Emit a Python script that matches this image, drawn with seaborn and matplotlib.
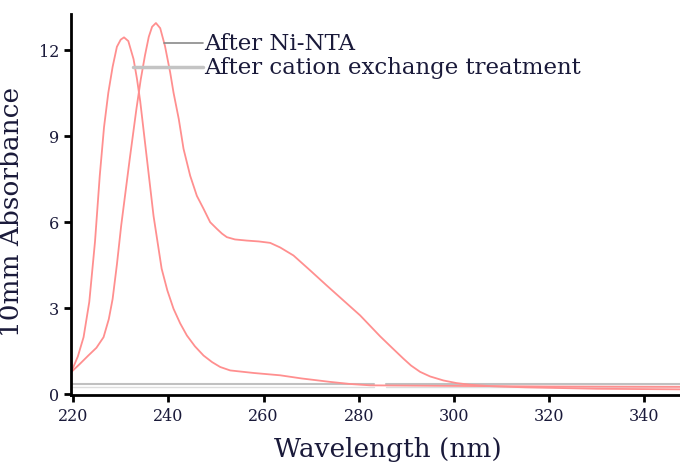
import matplotlib
matplotlib.use('Agg')
import matplotlib.pyplot as plt
import pandas as pd
import seaborn as sns

# Spectrum after cation exchange treatment (left peak)
wl_cation = [219.6, 221.0, 222.2, 223.4, 224.6, 225.6, 226.5, 227.4, 228.3, 229.2, 230.0, 230.7,
             231.6, 232.7, 233.4, 234.1, 235.5, 236.9, 238.6, 239.8, 241.1, 242.5, 243.9, 245.6,
             247.4, 249.2, 250.9, 253.0, 258.0, 263.5, 268.0, 274.0, 278.0, 282.4, 300.0, 320.0,
             347.5]
abs_cation = [0.75, 1.3, 1.97, 3.2, 5.3, 7.6, 9.3, 10.5, 11.4, 12.1, 12.35, 12.43,
              12.3, 11.67, 11.0, 10.2, 8.2, 6.2, 4.36, 3.6, 2.96, 2.45, 2.03, 1.65,
              1.33, 1.1, 0.93, 0.81, 0.72, 0.64, 0.53, 0.41, 0.34, 0.29, 0.27, 0.25,
              0.24]

# Spectrum after Ni-NTA (right peak)
wl_nta = [219.6, 221.5, 223.2, 224.9, 226.4, 227.5, 228.3, 229.2, 230.1, 231.9, 233.3, 234.2,
          235.1, 235.9, 236.6, 237.4, 238.3, 239.3, 240.4, 241.1, 242.2, 243.2, 244.6, 246.0,
          247.4, 248.8, 250.2, 251.3, 252.3, 254.0, 256.5, 259.0, 261.4, 263.5, 266.3, 269.8,
          273.3, 276.8, 280.3, 284.5, 287.0, 289.4, 291.0, 292.9, 295.0, 297.8, 300.5, 303.4,
          308.0, 315.0, 330.0, 347.5]
abs_nta = [0.75, 1.05, 1.33, 1.6, 1.97, 2.6, 3.3, 4.5, 5.86, 8.19, 9.93, 10.95,
           11.8, 12.45, 12.8, 12.93, 12.75, 12.13, 11.2, 10.5, 9.58, 8.54, 7.6, 6.9,
           6.45, 5.98, 5.75, 5.58, 5.46, 5.38, 5.34, 5.31, 5.26, 5.1, 4.82, 4.3,
           3.77, 3.25, 2.73, 2.0, 1.6, 1.22, 0.98, 0.76, 0.6, 0.46, 0.37, 0.31,
           0.26, 0.22, 0.17, 0.15]

labels = ['After Ni-NTA', 'After cation exchange treatment']
x_ticks = [220, 240, 260, 280, 300, 320, 340]
y_ticks = [0, 3, 6, 9, 12]

df = pd.concat([
    pd.DataFrame({'wl': wl_nta, 'abs': abs_nta, 'sample': labels[0]}),
    pd.DataFrame({'wl': wl_cation, 'abs': abs_cation, 'sample': labels[1]}),
])

sns.set_style('ticks')
plt.rcParams['font.family'] = ['DejaVu Serif']
text_color = '#1a1a3a'

fig = plt.figure(figsize=(6.8, 4.64), dpi=100)
ax = fig.add_axes([0.104, 0.147, 0.896, 0.821])

# faint baselines
ax.plot([219.5, 283.2], [0.33, 0.33], color='#c0c0c0', lw=1.5)
ax.plot([285.8, 347.5], [0.33, 0.33], color='#c0c0c0', lw=1.5)
ax.plot([219.5, 283.2], [0.22, 0.22], color='#dddddd', lw=1.0)
ax.plot([285.8, 347.5], [0.22, 0.22], color='#dddddd', lw=1.0)

sns.lineplot(data=df, x='wl', y='abs', units='sample', estimator=None, sort=False,
             color='#ff8f8f', lw=1.3, ax=ax, legend=False)

# label leader lines
ax.plot([239.0, 247.2], [12.23, 12.23], color='#8a8a8a', lw=1.2)
ax.plot([232.6, 247.2], [11.4, 11.4], color='#c4c4c4', lw=2.5)
ax.text(247.6, 12.23, labels[0], fontsize=16.5, color=text_color, va='center', ha='left')
ax.text(247.6, 11.4, labels[1], fontsize=16.5, color=text_color, va='center', ha='left')

ax.set_xlim(219.5, 347.5)
ax.set_ylim(-0.04, 13.25)
ax.set_xticks(x_ticks)
ax.set_yticks(y_ticks)
ax.tick_params(axis='both', direction='out', length=5, width=2, colors='black',
               labelcolor=text_color, labelsize=11.5)
for side in ['top', 'right']:
    ax.spines[side].set_visible(False)
for side in ['left', 'bottom']:
    ax.spines[side].set_linewidth(2)
    ax.spines[side].set_color('black')

ax.set_xlabel('Wavelength (nm)', fontsize=19, color=text_color)
ax.set_ylabel('10mm Absorbance', fontsize=19, color=text_color)
ax.xaxis.set_label_coords(0.52, -0.107)
ax.yaxis.set_label_coords(-0.076, 0.483)

fig.savefig('out.png', dpi=100)
